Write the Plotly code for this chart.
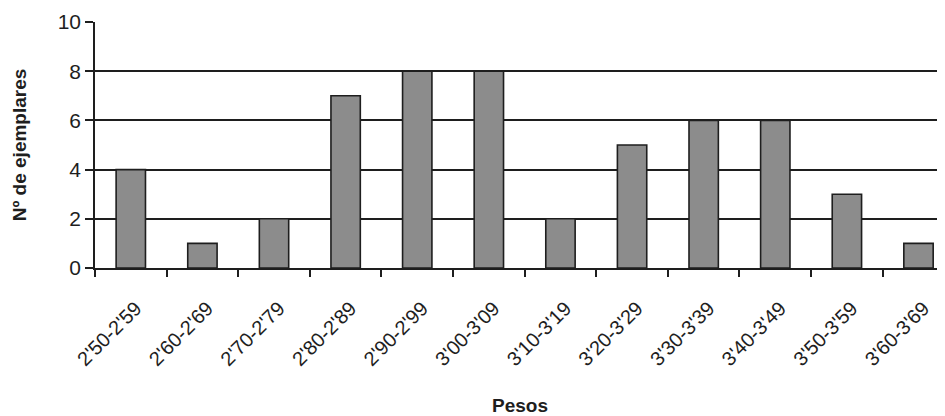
import plotly.graph_objects as go

categories = ["2'50-2'59", "2'60-2'69", "2'70-2'79", "2'80-2'89", "2'90-2'99", "3'00-3'09",
              "3'10-3'19", "3'20-3'29", "3'30-3'39", "3'40-3'49", "3'50-3'59", "3'60-3'69"]
counts = [4, 1, 2, 7, 8, 8, 2, 5, 6, 6, 3, 1]
y_ticks = [0, 2, 4, 6, 8, 10]

FONT = "Liberation Sans, Arial, sans-serif"
INK = "#1e1e1e"

fig = go.Figure(go.Bar(
    x=categories, y=counts, width=0.41,
    marker=dict(color="#8c8c8c", line=dict(color=INK, width=1.6)),
))

# page body has an 8px margin: size the figure to fill the rest of the window
fig.update_layout(
    width=937, height=408,
    margin=dict(l=87, r=0, t=14, b=148),
    paper_bgcolor="white", plot_bgcolor="white",
    showlegend=False,
    font=dict(family=FONT, color=INK),
)
fig.update_xaxes(
    type="category", range=[-0.5, 11.37], automargin=False,
    tickson="boundaries", ticks="outside", ticklen=7, tickwidth=1.5, tickcolor=INK,
    showline=True, linecolor=INK, linewidth=1.6,
    showgrid=False,
    tickangle=-45, tickfont=dict(size=20, family=FONT, color=INK),
    ticklabelshift=5, ticklabelstandoff=19,
    title=dict(text="<b>Pesos</b>", font=dict(size=19, family=FONT, color=INK), standoff=46),
)
fig.update_yaxes(
    range=[0, 10], tickvals=y_ticks, automargin=False,
    ticks="outside", ticklen=8, tickwidth=1.5, tickcolor=INK,
    showline=True, linecolor=INK, linewidth=1.6,
    showgrid=True, gridcolor=INK, gridwidth=1.6, zeroline=False,
    tickfont=dict(size=21, family=FONT, color=INK),
    title=dict(text="<b>Nº de ejemplares</b>", font=dict(size=19, family=FONT, color=INK), standoff=26),
)

fig.write_html("out.html")
